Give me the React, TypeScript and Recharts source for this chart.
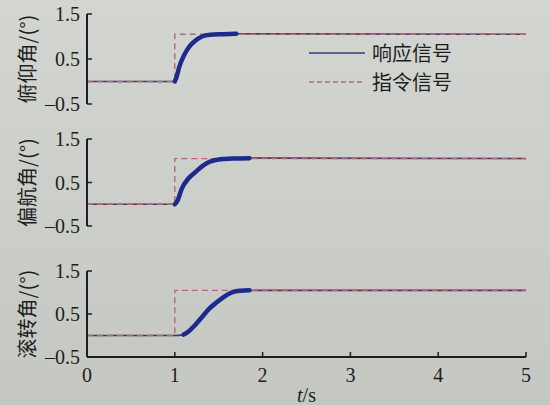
import React from 'react';
import { LineChart, Line, XAxis, YAxis, Legend } from 'recharts';

// Time axis and y-axis ticks shared by the three attitude channels
const T_TICKS = [0, 1, 2, 3, 4, 5];
const Y_TICKS = [-0.5, 0, 0.5, 1, 1.5];
const Y_LABELED = [-0.5, 0.5, 1.5];

// Step command (deg)
const commandTime = [0, 1, 1, 5];
const commandValue = [0, 0, 1.05, 1.05];

// Pitch response
const pitchTime = [0, 1, 1.02, 1.05, 1.1, 1.16, 1.23, 1.31, 1.4, 1.55, 1.7, 5];
const pitchValue = [0, 0, 0.1, 0.32, 0.56, 0.76, 0.9, 1.0, 1.04, 1.05, 1.06, 1.05];
const pitchBandEnd = 1.7;

// Yaw response
const yawTime = [0, 1, 1.03, 1.08, 1.15, 1.23, 1.31, 1.39, 1.5, 1.65, 1.85, 5];
const yawValue = [0, 0, 0.08, 0.36, 0.58, 0.73, 0.87, 0.97, 1.03, 1.05, 1.06, 1.05];
const yawBandEnd = 1.87;

// Roll response
const rollTime = [0, 1, 1.1, 1.16, 1.23, 1.31, 1.39, 1.47, 1.54, 1.6, 1.66, 1.75, 1.85, 5];
const rollValue = [0, 0, 0.02, 0.1, 0.24, 0.43, 0.62, 0.76, 0.87, 0.95, 1.01, 1.04, 1.05, 1.05];
const rollBandStart = 1.05;
const rollBandEnd = 2.0;

const LEGEND_RESPONSE = '响应信号';
const LEGEND_COMMAND = '指令信号';
const X_LABEL_T = 't';
const X_LABEL_UNIT = '/s';

const INK = '#1e1e1e';
const BLUE_THICK = '#1b2a8c';
const BLUE_THIN = '#363c70';
const RED = '#b8696c';
const SERIF = '"Liberation Serif", "Times New Roman", serif';
const CJK = '"Noto Sans CJK SC", "Liberation Serif", sans-serif';

const zip = (t: number[], v: number[]) => t.map((time, i) => ({ t: time, v: v[i] }));
const commandData = zip(commandTime, commandValue);

const TICK_MARGIN = 6;

const fmtY = (v: number) => (v < 0 ? '\u2013' + Math.abs(v) : String(v));

const YTick = (props: any) => {
  const { x, y, payload } = props;
  const axisX = x + TICK_MARGIN;
  const v = payload.value as number;
  return (
    <g>
      <line x1={axisX} x2={axisX + 5} y1={y} y2={y} stroke={INK} strokeWidth={1.5} />
      {Y_LABELED.includes(v) && (
        <text
          x={x - 1}
          y={y}
          textAnchor="end"
          dominantBaseline="central"
          fontFamily={SERIF}
          fontSize={20}
          fill={INK}
        >
          {fmtY(v)}
        </text>
      )}
    </g>
  );
};

const XTick = (props: any) => {
  const { x, y, payload } = props;
  const axisY = y - TICK_MARGIN;
  const v = payload.value as number;
  return (
    <g>
      {v > 0 && <line x1={x} x2={x} y1={axisY} y2={axisY - 5} stroke={INK} strokeWidth={1.5} />}
      <text x={x} y={axisY + 25} textAnchor="middle" fontFamily={SERIF} fontSize={20} fill={INK}>
        {v}
      </text>
    </g>
  );
};

const LegendBox = () => (
  <div style={{ fontFamily: CJK, fontSize: 20, color: INK, lineHeight: '29px' }}>
    <div style={{ display: 'flex', alignItems: 'center', height: 29 }}>
      <svg width={56} height={10} style={{ marginRight: 7 }}>
        <line x1={0} x2={56} y1={5} y2={5} stroke={BLUE_THIN} strokeWidth={1.6} />
      </svg>
      <span>{LEGEND_RESPONSE}</span>
    </div>
    <div style={{ display: 'flex', alignItems: 'center', height: 29 }}>
      <svg width={56} height={10} style={{ marginRight: 7 }}>
        <line x1={0} x2={56} y1={5} y2={5} stroke={RED} strokeWidth={1.6} strokeDasharray="5 3" />
      </svg>
      <span>{LEGEND_COMMAND}</span>
    </div>
  </div>
);

type PanelProps = {
  title: string;
  time: number[];
  value: number[];
  bandStart: number;
  bandEnd: number;
  top: number;
  height: number;
  margin: { top: number; right: number; bottom: number; left: number };
  showTimeAxis?: boolean;
  showLegend?: boolean;
};

const Panel = ({
  title,
  time,
  value,
  bandStart,
  bandEnd,
  top,
  height,
  margin,
  showTimeAxis,
  showLegend,
}: PanelProps) => {
  const data = zip(time, value);
  const band = data.filter((d) => d.t >= bandStart && d.t <= bandEnd);
  return (
    <div style={{ position: 'absolute', left: 0, top }}>
      <LineChart width={550} height={height} margin={margin} style={{ overflow: 'visible' }}>
        <XAxis
          dataKey="t"
          type="number"
          domain={[0, 5]}
          ticks={T_TICKS}
          allowDuplicatedCategory={false}
          axisLine={{ stroke: INK, strokeWidth: 2 }}
          tickLine={false}
          tickSize={0}
          tickMargin={TICK_MARGIN}
          tick={showTimeAxis ? <XTick /> : false}
          height={showTimeAxis ? 30 : 0}
          label={
            showTimeAxis
              ? {
                  content: (p: any) => {
                    const vb = p.viewBox;
                    return (
                      <text
                        x={vb.x + vb.width / 2}
                        y={vb.y + 45}
                        textAnchor="middle"
                        fontFamily={SERIF}
                        fontSize={20}
                        fill={INK}
                      >
                        <tspan fontStyle="italic">{X_LABEL_T}</tspan>
                        <tspan>{X_LABEL_UNIT}</tspan>
                      </text>
                    );
                  },
                }
              : undefined
          }
        />
        <YAxis
          type="number"
          domain={[-0.5, 1.5]}
          ticks={Y_TICKS}
          width={87}
          axisLine={{ stroke: INK, strokeWidth: 2 }}
          tickLine={false}
          tickSize={0}
          tickMargin={TICK_MARGIN}
          tick={<YTick />}
          label={{
            content: (p: any) => {
              const vb = p.viewBox;
              const cy = vb.y + vb.height / 2;
              return (
                <text
                  x={26}
                  y={cy}
                  transform={`rotate(-90 26 ${cy})`}
                  textAnchor="middle"
                  dominantBaseline="central"
                  fontFamily={CJK}
                  fontSize={20}
                  fill={INK}
                >
                  {title}
                </text>
              );
            },
          }}
        />
        {showLegend && (
          <Legend
            layout="vertical"
            align="center"
            verticalAlign="middle"
            content={<LegendBox />}
            wrapperStyle={{ position: 'absolute', left: 309, top: 38, width: 180 }}
          />
        )}
        <Line
          data={data}
          dataKey="v"
          type="monotone"
          stroke={BLUE_THIN}
          strokeWidth={1.6}
          dot={false}
          isAnimationActive={false}
          legendType="none"
        />
        <Line
          data={commandData}
          dataKey="v"
          type="linear"
          stroke={RED}
          strokeWidth={1.4}
          strokeDasharray="6 4"
          dot={false}
          isAnimationActive={false}
          legendType="none"
        />
        <Line
          data={band}
          dataKey="v"
          type="monotone"
          stroke={BLUE_THICK}
          strokeWidth={4.5}
          strokeLinecap="round"
          dot={false}
          isAnimationActive={false}
          legendType="none"
        />
      </LineChart>
    </div>
  );
};

export default function App() {
  return (
    <div
      style={{
        position: 'absolute',
        left: 0,
        top: 0,
        width: 550,
        height: 405,
        overflow: 'hidden',
        background: 'linear-gradient(180deg, #d3d5d1 0%, #cbcec9 50%, #c4c7c2 100%)',
      }}
    >
      <Panel
        title="俯仰角/(°)"
        time={pitchTime}
        value={pitchValue}
        bandStart={1}
        bandEnd={pitchBandEnd}
        top={0}
        height={130}
        margin={{ top: 14, right: 24, bottom: 26, left: 0 }}
        showLegend
      />
      <Panel
        title="偏航角/(°)"
        time={yawTime}
        value={yawValue}
        bandStart={1}
        bandEnd={yawBandEnd}
        top={125}
        height={130}
        margin={{ top: 14, right: 24, bottom: 29, left: 0 }}
      />
      <Panel
        title="滚转角/(°)"
        time={rollTime}
        value={rollValue}
        bandStart={rollBandStart}
        bandEnd={rollBandEnd}
        top={255}
        height={150}
        margin={{ top: 16, right: 24, bottom: 18, left: 0 }}
        showTimeAxis
      />
    </div>
  );
}
